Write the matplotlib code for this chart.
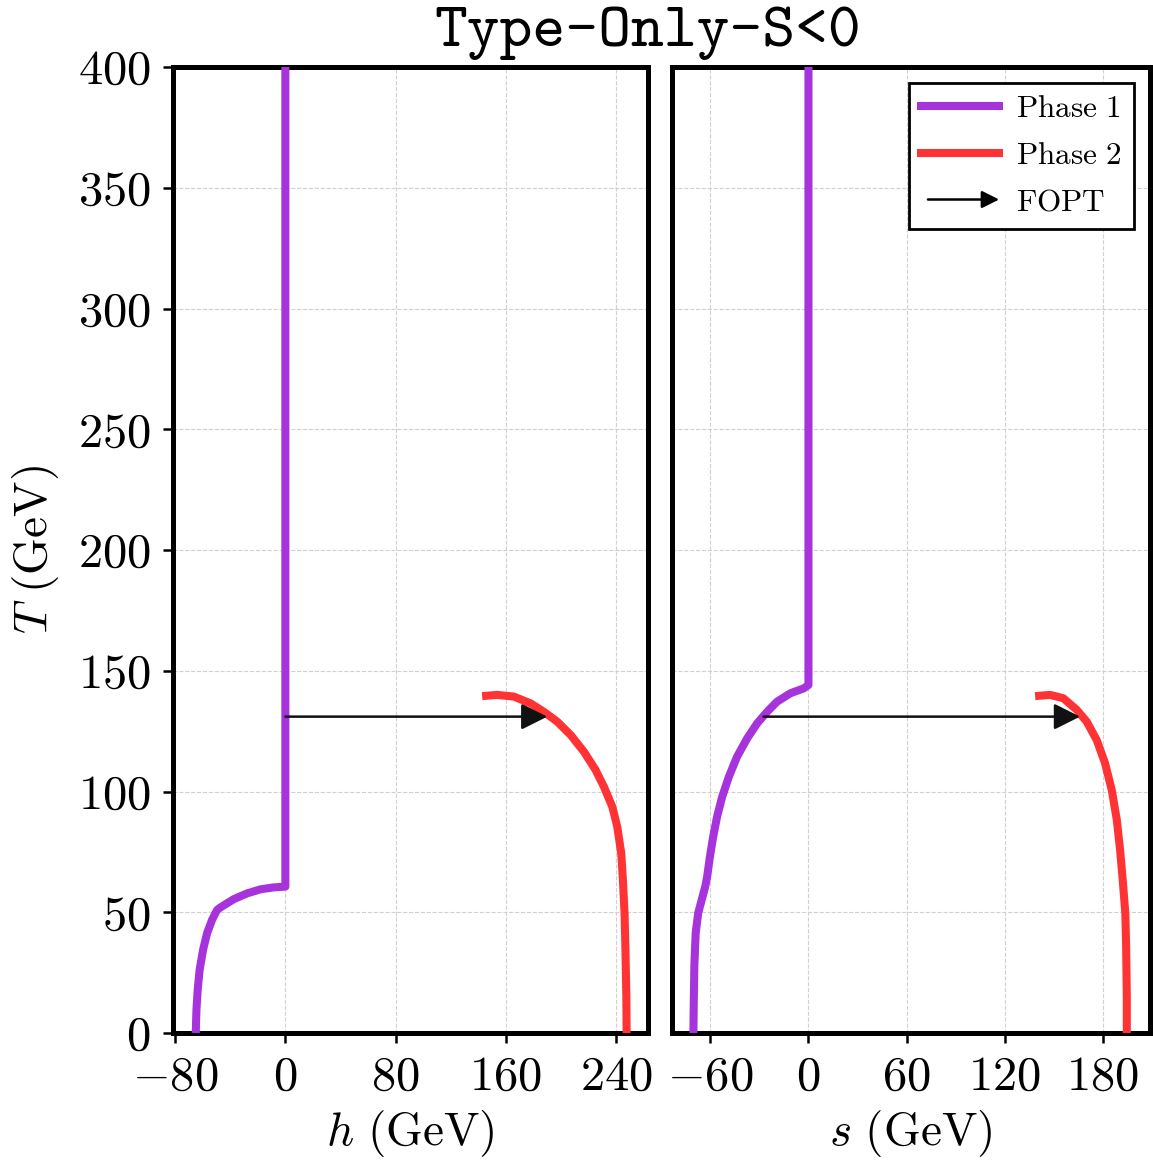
import numpy as np
import matplotlib
matplotlib.use("Agg")
import matplotlib.pyplot as plt
from matplotlib.lines import Line2D
from matplotlib.patches import FancyArrowPatch
from matplotlib.legend_handler import HandlerBase

plt.rcParams['mathtext.fontset'] = 'cm'
plt.rcParams['font.family'] = ['cmr10', 'DejaVu Serif']
plt.rcParams['axes.formatter.use_mathtext'] = True
plt.rcParams['axes.unicode_minus'] = True

# ---- data ----
title = "Type-Only-S<0"
T_fopt = 131.0

# Phase 1 (h, T)
p1_h = [0, 0, -8.5, -18, -27.8, -37.5, -47.1, -49.6, -53.2, -56.8, -59.7, -62.2, -63.6, -64.5, -65.0]
p1_hT = [400, 60.6, 60.3, 59.5, 57.8, 55.4, 52.0, 50.9, 46.8, 41.3, 34.4, 26.1, 17.8, 9.5, 0]
# Phase 1 (s, T)
p1_s = [0, 0, -2.9, -11, -19.2, -25.3, -31.4, -37.5, -43.7, -48.7, -52.8, -55.9, -58.3, -60.3,
        -62.0, -63.2, -64.0, -67.5, -69.0, -69.8, -70.2, -70.4]
p1_sT = [400, 144.1, 142.7, 140.7, 137.2, 133.0, 128.2, 122.0, 114.4, 106.1, 97.8, 89.6, 81.3, 73.0,
         64.7, 60.5, 58.5, 49.6, 41.4, 28.4, 11.9, 0]

# Phase 2 (h, T)
p2_h = [142.7, 153.6, 165.7, 177.8, 187.5, 197.2, 206.9, 216.5, 225.0, 231.0, 237.1, 240.7, 243.6,
        244.8, 246.0, 246.6, 247.3, 247.5]
p2_hT = [139.5, 140.0, 139.3, 136.5, 133.0, 128.9, 123.4, 116.5, 108.9, 102.0, 93.7, 85.4, 74.4,
         63.4, 49.6, 35.7, 15.0, 0]
# Phase 2 (s, T)
p2_s = [138.7, 147.9, 156.0, 164.2, 170.3, 176.4, 181.5, 185.6, 188.7, 190.7, 192.3, 193.9, 194.4,
        194.8, 194.8]
p2_sT = [139.5, 140.0, 138.6, 133.8, 128.9, 121.3, 111.7, 100.6, 88.2, 75.8, 63.4, 49.6, 35.7,
         15.0, 0]

h_fopt = (0.0, 190.0)
s_fopt = (-27.5, 166.2)

h_ticks = [-80, 0, 80, 160, 240]
s_ticks = [-60, 0, 60, 120, 180]
T_ticks = [0, 50, 100, 150, 200, 250, 300, 350, 400]

c1 = '#A633DC'
c2 = '#FF3333'

W, H = 1153, 1161
fig = plt.figure(figsize=(W / 100, H / 100), dpi=100)
ax1 = fig.add_axes([173 / W, 1 - 1033 / H, (648 - 173) / W, (1033 - 67) / H])
ax2 = fig.add_axes([672 / W, 1 - 1033 / H, (1150 - 672) / W, (1033 - 67) / H], sharey=ax1)

lw = 5.8
fs_tick = 35
fs_lab = 34

for ax, x1, y1, x2, y2, fopt, ticks, xl, lab in [
    (ax1, p1_h, p1_hT, p2_h, p2_hT, h_fopt, h_ticks, (-81.5, 263), r'$h\ (\mathrm{GeV})$'),
    (ax2, p1_s, p1_sT, p2_s, p2_sT, s_fopt, s_ticks, (-83.5, 209), r'$s\ (\mathrm{GeV})$'),
]:
    ax.plot(x1, y1, color=c1, lw=lw, solid_capstyle='butt', solid_joinstyle='round', zorder=3)
    ax.plot(x2, y2, color=c2, lw=lw, solid_capstyle='butt', solid_joinstyle='round', zorder=3)
    ax.annotate('', xy=(fopt[1], T_fopt), xytext=(fopt[0], T_fopt),
                arrowprops=dict(arrowstyle='-|>', color='#111111', lw=1.8,
                                mutation_scale=40, shrinkA=0, shrinkB=0), zorder=4)
    ax.set_xlim(*xl)
    ax.set_ylim(0, 400)
    ax.set_xticks(ticks)
    ax.set_yticks(T_ticks)
    ax.grid(True, color='#d0d0d0', linestyle='--', linewidth=0.8)
    ax.set_axisbelow(True)
    for sp in ax.spines.values():
        sp.set_linewidth(3.6)
    ax.tick_params(axis='both', direction='out', length=7, width=1.8, labelsize=fs_tick, pad=9)
    ax.set_xlabel(lab, fontsize=fs_lab, labelpad=6)

ax1.set_ylabel(r'$T\ (\mathrm{GeV})$', fontsize=fs_lab, labelpad=12)
ax2.tick_params(axis='y', labelleft=False, length=0)


class HandlerArrow(HandlerBase):
    def create_artists(self, legend, orig_handle, xdescent, ydescent, width, height, fontsize, trans):
        y = height / 2 - ydescent
        p = FancyArrowPatch((-xdescent + 5, y), (-xdescent + width, y), arrowstyle='-|>',
                            mutation_scale=26, lw=1.8, color='k', shrinkA=0, shrinkB=0,
                            transform=trans)
        return [p]


arrow_proxy = FancyArrowPatch((0, 0), (1, 0))
handles = [Line2D([], [], color=c1, lw=lw), Line2D([], [], color=c2, lw=lw), arrow_proxy]
leg = ax2.legend(handles, [r'$\mathrm{Phase\ 1}$', r'$\mathrm{Phase\ 2}$', r'$\mathrm{FOPT}$'],
                 handler_map={FancyArrowPatch: HandlerArrow()},
                 loc='upper right', fontsize=22.5, handlelength=2.5, fancybox=False,
                 framealpha=1, edgecolor='black', borderaxespad=0.5, labelspacing=0.6,
                 borderpad=0.4, handletextpad=0.55)
leg.get_frame().set_linewidth(2.0)

fig.text(647.5 / W, 1 - 33 / H, title, family=['cmtt10', 'DejaVu Sans Mono'], fontsize=45,
         ha='center', va='center')

fig.savefig('out.png', dpi=100)
